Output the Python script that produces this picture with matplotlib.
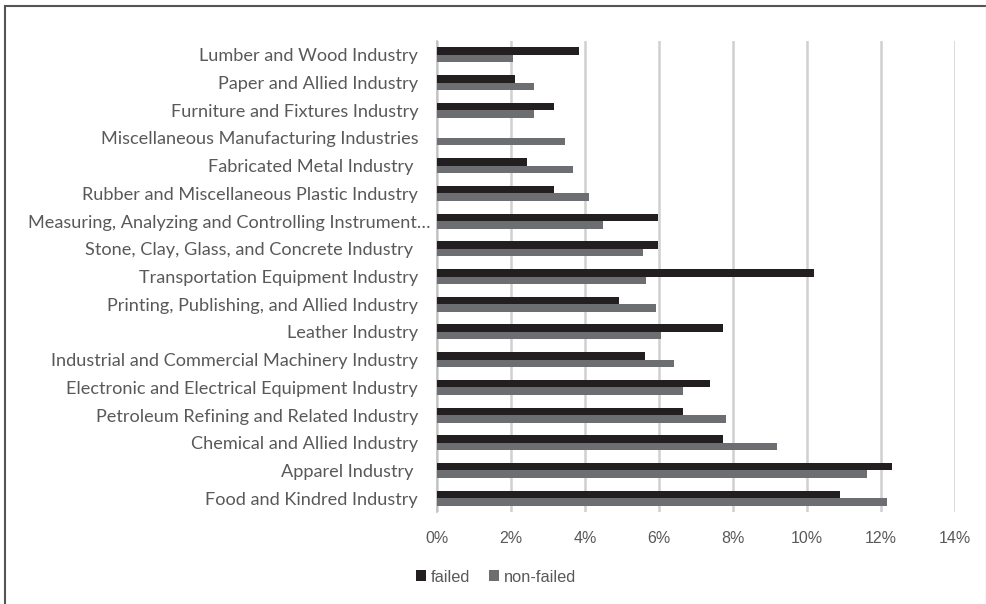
import matplotlib
matplotlib.use("Agg")
import matplotlib.pyplot as plt
from matplotlib.patches import Patch
from matplotlib.lines import Line2D
from matplotlib.ticker import FuncFormatter
from matplotlib.transforms import ScaledTranslation
import numpy as np

categories = [
    "Lumber and Wood Industry",
    "Paper and Allied Industry",
    "Furniture and Fixtures Industry",
    "Miscellaneous Manufacturing Industries",
    "Fabricated Metal Industry ",
    "Rubber and Miscellaneous Plastic Industry",
    "Measuring, Analyzing and Controlling Instrument…",
    "Stone, Clay, Glass, and Concrete Industry ",
    "Transportation Equipment Industry",
    "Printing, Publishing, and Allied Industry",
    "Leather Industry",
    "Industrial and Commercial Machinery Industry",
    "Electronic and Electrical Equipment Industry",
    "Petroleum Refining and Related Industry",
    "Chemical and Allied Industry",
    "Apparel Industry ",
    "Food and Kindred Industry",
]
failed = [3.85, 2.11, 3.17, 0.0, 2.44, 3.17, 5.97, 5.97, 10.18, 4.91,
          7.72, 5.63, 7.37, 6.66, 7.72, 12.30, 10.89]
non_failed = [2.05, 2.62, 2.62, 3.45, 3.68, 4.11, 4.50, 5.56, 5.65, 5.92,
              6.05, 6.40, 6.66, 7.81, 9.18, 11.63, 12.16]
xticks = [0, 2, 4, 6, 8, 10, 12, 14]

W, H = 987, 604
fig = plt.figure(figsize=(W / 100, H / 100), dpi=100)
fig.patch.set_facecolor("white")

x0, x1, yt, yb = 437, 955, 41, 512
ax = fig.add_axes([x0 / W, 1 - yb / H, (x1 - x0) / W, (yb - yt) / H])

n = len(categories)
pos = np.arange(n)
bh = 0.27
c_fail = "#231f20"
c_non = "#6d6e71"
ax.barh(pos - bh / 2, failed, height=bh, color=c_fail, label="failed", zorder=3)
ax.barh(pos + bh / 2, non_failed, height=bh, color=c_non, label="non-failed", zorder=3)

ax.set_ylim(n - 0.5, -0.5)
ax.set_xlim(0, 14)
ax.set_xticks(xticks)
ax.xaxis.set_major_formatter(FuncFormatter(lambda v, p: f"{v:.0f}%"))
ax.set_yticks(pos)
ax.set_yticklabels(categories)
for s in ["top", "right", "bottom"]:
    ax.spines[s].set_visible(False)
ax.spines["left"].set_color("#bfbfbf")
ax.spines["left"].set_linewidth(1.2)
ax.grid(axis="x", color="#d0d0d0", linewidth=1.8, zorder=0)
ax.tick_params(axis="both", length=0)
ax.tick_params(axis="y", pad=13.5, labelcolor="#595959")
ax.tick_params(axis="x", pad=13.5, labelcolor="#595959")
for t in ax.get_yticklabels():
    t.set_fontfamily("Lato")
    t.set_fontsize(13.1)
    if t.get_text().endswith("…"):
        t.set_transform(t.get_transform() + ScaledTranslation(12 / 100, 0, fig.dpi_scale_trans))
for t in ax.get_xticklabels():
    t.set_fontfamily("Liberation Sans")
    t.set_fontsize(11.5)

handles = [Patch(facecolor=c_fail, edgecolor="none"), Patch(facecolor=c_non, edgecolor="none")]
leg = fig.legend(handles, ["failed", "non-failed"], loc="center",
                 bbox_to_anchor=(496 / W, 1 - 577 / H), ncol=2, frameon=False,
                 handlelength=0.65, handleheight=0.65, handletextpad=0.3,
                 columnspacing=1.1, prop={"family": "Liberation Sans", "size": 11.8})
for t in leg.get_texts():
    t.set_color("#595959")

# outer chart border
fig.add_artist(Line2D([5 / W, 5 / W], [0, 1 - 6 / H], color="#555555", lw=1.5, transform=fig.transFigure))
fig.add_artist(Line2D([5 / W, 1], [1 - 6 / H, 1 - 6 / H], color="#555555", lw=1.5, transform=fig.transFigure))
fig.add_artist(Line2D([986 / W, 986 / W], [0, 1 - 6 / H], color="#dddddd", lw=1, transform=fig.transFigure))

fig.savefig("out.png", dpi=100)
